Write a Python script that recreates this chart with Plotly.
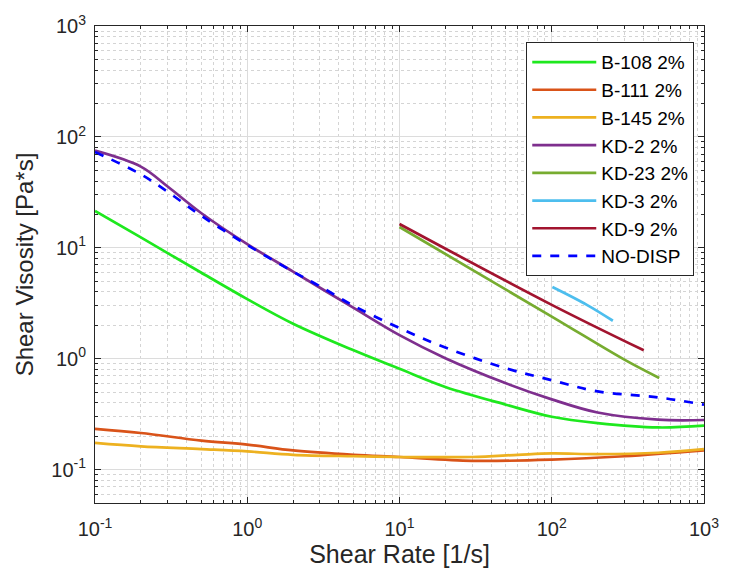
import plotly.graph_objects as go
import numpy as np

# ---- data ----
x_kd2 = [0.1, 0.2, 0.3, 0.5, 1, 2, 5, 10, 20, 50, 100, 200, 500, 1000]
y_kd2 = [75.3, 54, 35.7, 20.5, 10.8, 6.1, 2.87, 1.63, 1.01, 0.60, 0.43, 0.327, 0.282, 0.28]

x_nodisp = [0.1, 0.2, 0.3, 0.5, 1, 2, 3, 5, 10, 20, 50, 100, 200, 500, 1000]
y_nodisp = [73, 46, 32, 19.4, 10.6, 6.1, 4.5, 3.0, 1.89, 1.26, 0.82, 0.64, 0.507, 0.448, 0.385]

x_b108 = [0.1, 0.2, 0.5, 1, 2, 5, 10, 20, 50, 100, 200, 500, 1000]
y_b108 = [21.5, 12.4, 5.96, 3.45, 2.07, 1.19, 0.81, 0.556, 0.385, 0.30, 0.263, 0.24, 0.249]

x_b111 = [0.1, 0.2, 0.5, 1, 2, 5, 10, 30, 100, 300, 1000]
y_b111 = [0.233, 0.214, 0.1825, 0.168, 0.149, 0.136, 0.13, 0.12, 0.123, 0.132, 0.149]

x_b145 = [0.1, 0.2, 0.5, 1, 2, 5, 10, 30, 60, 100, 200, 500, 1000]
y_b145 = [0.174, 0.162, 0.153, 0.146, 0.136, 0.132, 0.13, 0.13, 0.136, 0.14, 0.138, 0.142, 0.153]

x_kd23 = [10, 100, 300, 508]
y_kd23 = [15.4, 2.4, 0.98, 0.67]

x_kd3 = [101, 170, 252]
y_kd3 = [4.43, 3.06, 2.2]

x_kd9 = [10, 100, 402]
y_kd9 = [16.4, 3.06, 1.19]

names = ["B-108 2%", "B-111 2%", "B-145 2%", "KD-2 2%", "KD-23 2%", "KD-3 2%", "KD-9 2%", "NO-DISP"]
colors = ["#1ee81e", "#D95319", "#EDB120", "#7E2F8E", "#77AC30", "#4DBEEE", "#A2142F", "#0000FF"]
series = [(x_b108, y_b108), (x_b111, y_b111), (x_b145, y_b145), (x_kd2, y_kd2),
          (x_kd23, y_kd23), (x_kd3, y_kd3), (x_kd9, y_kd9), (x_nodisp, y_nodisp)]

x_tickvals = [0.1, 1, 10, 100, 1000]
x_ticktext = ["10<sup>-1</sup>", "10<sup>0</sup>", "10<sup>1</sup>", "10<sup>2</sup>", "10<sup>3</sup>"]
y_tickvals = [0.1, 1, 10, 100, 1000]
y_ticktext = ["10<sup>-1</sup>", "10<sup>0</sup>", "10<sup>1</sup>", "10<sup>2</sup>", "10<sup>3</sup>"]

FONT = "Liberation Sans, Arial, Helvetica, sans-serif"

fig = go.Figure()
for (xs, ys), nm, c in zip(series, names, colors):
    dash = "dash" if nm == "NO-DISP" else "solid"
    fig.add_trace(go.Scatter(x=xs, y=ys, mode="lines", name=nm,
                             line=dict(color=c, width=2.7, dash=dash, shape="spline", smoothing=1.0)))

minor_x = [m * 10.0 ** e for e in range(-1, 3) for m in range(2, 10)]
minor_y = [m * 10.0 ** e for e in range(-2, 3) for m in range(2, 10) if m * 10.0 ** e >= 0.05]

axis_common = dict(
    showline=True, linecolor="#262626", linewidth=1, mirror="allticks",
    ticks="inside", ticklen=6, tickcolor="#262626",
    showgrid=True, gridcolor="#dcdcdc", gridwidth=1,
    zeroline=False,
    tickfont=dict(family=FONT, size=20, color="#262626"),
)

fig.update_xaxes(type="log", range=[-1, 3], tickvals=x_tickvals, ticktext=x_ticktext,
                 ticklabelstandoff=8,
                 title=dict(text="Shear Rate [1/s]", font=dict(family=FONT, size=25, color="#262626"), standoff=3),
                 minor=dict(tickvals=minor_x, ticks="inside", ticklen=3, tickcolor="#262626",
                            showgrid=True, gridcolor="#d4d4d4", griddash="dot", gridwidth=1),
                 **axis_common)
fig.update_yaxes(type="log", range=[np.log10(0.05), 3], tickvals=y_tickvals, ticktext=y_ticktext,
                 ticklabelstandoff=4,
                 title=dict(text="Shear Visosity [Pa*s]", font=dict(family=FONT, size=24, color="#262626"), standoff=10),
                 minor=dict(tickvals=minor_y, ticks="inside", ticklen=3, tickcolor="#262626",
                            showgrid=True, gridcolor="#d4d4d4", griddash="dot", gridwidth=1),
                 **axis_common)

fig.update_layout(
    width=731, height=576,
    margin=dict(l=95, r=21, t=26, b=73),
    plot_bgcolor="white", paper_bgcolor="white",
    font=dict(family=FONT, color="#262626"),
    legend=dict(x=0.984, y=0.966, xanchor="right", yanchor="top",
                bgcolor="white", bordercolor="#262626", borderwidth=1,
                itemwidth=64,
                font=dict(family=FONT, size=19, color="#000000")),
    showlegend=True,
)

fig.write_html("out.html")
